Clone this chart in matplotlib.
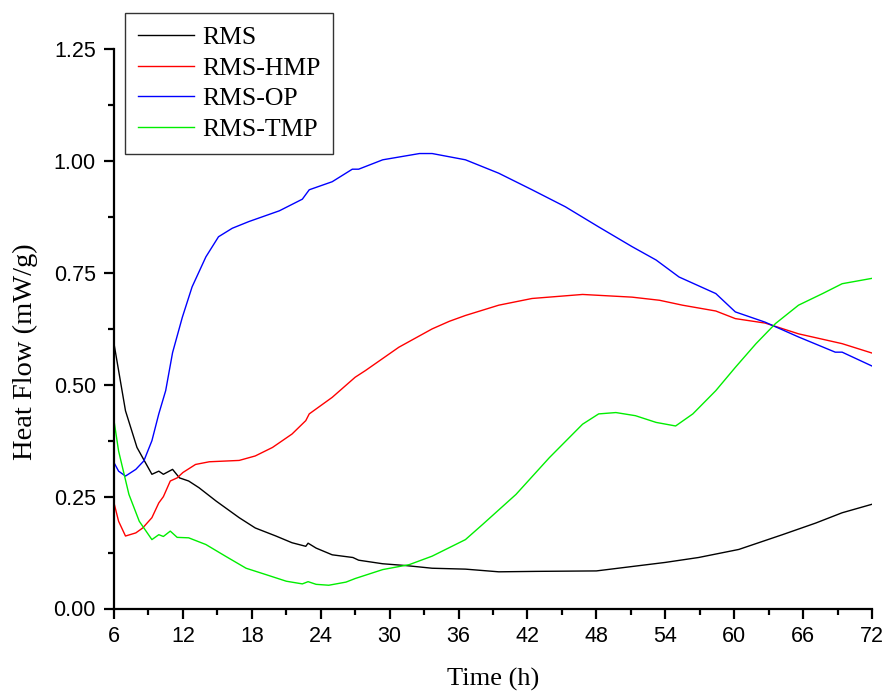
import matplotlib
matplotlib.use("Agg")
import matplotlib.pyplot as plt
from matplotlib.ticker import MultipleLocator

# ---- data ----
t_rms = [6.0, 7.0, 8.0, 9.3, 9.9, 10.3, 11.1, 11.7, 12.5, 13.4, 14.9, 16.9, 18.3, 20.1, 21.5, 22.7, 22.9,
         23.6, 25.0, 26.8, 27.3, 29.4, 31.4, 33.7, 36.6, 39.5, 42.8, 48.0, 54.0, 56.9, 60.4, 64.2, 67.1, 69.4, 72.0]
v_rms = [0.592, 0.442, 0.360, 0.300, 0.307, 0.300, 0.311, 0.292, 0.285, 0.270, 0.240, 0.203, 0.180, 0.162, 0.147,
         0.139, 0.146, 0.135, 0.120, 0.114, 0.108, 0.100, 0.096, 0.090, 0.088, 0.082, 0.083, 0.084, 0.103, 0.114,
         0.132, 0.165, 0.191, 0.214, 0.233]

t_hmp = [6.0, 6.4, 7.0, 7.9, 8.5, 9.3, 9.9, 10.3, 10.9, 11.5, 12.0, 13.1, 14.3, 16.9, 18.3, 19.8, 21.5, 22.7,
         23.0, 25.0, 27.0, 27.9, 30.8, 33.7, 35.2, 36.6, 39.5, 42.4, 46.8, 51.1, 53.5, 55.5, 58.4, 60.1, 62.7,
         65.6, 69.4, 72.0]
v_hmp = [0.236, 0.195, 0.162, 0.169, 0.180, 0.203, 0.236, 0.250, 0.285, 0.292, 0.304, 0.322, 0.328, 0.331, 0.341,
         0.360, 0.390, 0.420, 0.435, 0.472, 0.517, 0.532, 0.584, 0.625, 0.642, 0.655, 0.678, 0.693, 0.702, 0.696,
         0.689, 0.678, 0.665, 0.648, 0.638, 0.614, 0.592, 0.571]

t_op = [6.0, 6.4, 7.0, 7.9, 8.6, 9.3, 9.9, 10.5, 11.1, 11.95, 12.8, 14.0, 15.1, 16.3, 17.75, 20.4, 22.4, 23.0,
        25.0, 26.75, 27.3, 29.4, 32.6, 33.7, 36.6, 39.5, 42.4, 45.3, 48.2, 51.1, 53.2, 55.2, 58.4, 60.1, 62.7,
        65.6, 68.8, 69.4, 72.0]
v_op = [0.326, 0.307, 0.296, 0.311, 0.330, 0.375, 0.435, 0.487, 0.572, 0.651, 0.719, 0.786, 0.831, 0.850, 0.865,
        0.889, 0.915, 0.936, 0.954, 0.982, 0.982, 1.003, 1.017, 1.017, 1.003, 0.973, 0.936, 0.898, 0.853, 0.809,
        0.779, 0.741, 0.704, 0.663, 0.640, 0.607, 0.573, 0.573, 0.542]

t_tmp = [6.0, 6.4, 7.3, 8.2, 9.3, 9.9, 10.3, 10.9, 11.5, 12.5, 14.0, 15.7, 17.5, 19.2, 21.0, 22.4, 22.9, 23.6,
         24.7, 26.2, 27.0, 29.4, 31.7, 33.7, 36.6, 38.1, 41.0, 43.9, 46.8, 48.2, 49.7, 51.4, 53.2, 54.9, 56.4,
         58.4, 60.1, 61.9, 63.6, 65.6, 67.7, 69.4, 72.0]
v_tmp = [0.420, 0.352, 0.255, 0.195, 0.154, 0.165, 0.161, 0.173, 0.159, 0.158, 0.143, 0.117, 0.090, 0.076, 0.061,
         0.055, 0.060, 0.054, 0.052, 0.059, 0.067, 0.087, 0.098, 0.117, 0.154, 0.188, 0.255, 0.337, 0.412, 0.435,
         0.438, 0.431, 0.416, 0.408, 0.435, 0.487, 0.539, 0.592, 0.637, 0.678, 0.704, 0.726, 0.738]

series = [
    ("RMS", t_rms, v_rms, "#000000"),
    ("RMS-HMP", t_hmp, v_hmp, "#ff0000"),
    ("RMS-OP", t_op, v_op, "#0000ff"),
    ("RMS-TMP", t_tmp, v_tmp, "#00ee00"),
]

x_ticks = [6, 12, 18, 24, 30, 36, 42, 48, 54, 60, 66, 72]
y_ticks = [0.00, 0.25, 0.50, 0.75, 1.00, 1.25]

# ---- figure ----
W, H = 888, 696
fig = plt.figure(figsize=(W / 100, H / 100), dpi=100)
x0, x1, ytop, ybot = 114, 872, 49.3, 608.5
ax = fig.add_axes([x0 / W, 1 - ybot / H, (x1 - x0) / W, (ybot - ytop) / H])

for name, t, v, c in series:
    ax.plot(t, v, color=c, lw=1.0, label=name)

ax.set_xlim(6, 72)
ax.set_ylim(0, 1.25)
ax.set_xticks(x_ticks)
ax.set_yticks(y_ticks)
ax.set_yticklabels([f"{y:.2f}" for y in y_ticks])
ax.xaxis.set_minor_locator(MultipleLocator(3))
ax.yaxis.set_minor_locator(MultipleLocator(0.125))

for s in ["top", "right"]:
    ax.spines[s].set_visible(False)
for s in ["left", "bottom"]:
    ax.spines[s].set_linewidth(1.6)

ax.tick_params(which="major", direction="out", length=7.5, width=1.6, labelsize=15.5)
ax.tick_params(axis="y", which="major", pad=5.5)
ax.tick_params(axis="x", which="major", pad=5.0)
ax.tick_params(which="minor", direction="out", length=4.3, width=1.6)
for lab in ax.get_xticklabels() + ax.get_yticklabels():
    lab.set_family("Liberation Sans")

ax.set_xlabel("Time (h)", family="Liberation Serif", fontsize=19)
ax.set_ylabel("Heat Flow (mW/g)", family="Liberation Serif", fontsize=20.5)
ax.xaxis.set_label_coords(0.5, (ybot - 668) / (ybot - ytop))
ax.yaxis.set_label_coords((38 - x0) / (x1 - x0), (ybot - 352) / (ybot - ytop))

leg = ax.legend(loc="upper left", bbox_to_anchor=(125 / W, 1 - 13 / H), bbox_transform=fig.transFigure,
                borderaxespad=0, prop={"family": "Liberation Serif", "size": 18.5},
                frameon=True, fancybox=False, framealpha=1, edgecolor="#333333",
                handlelength=2.2, handletextpad=0.3, labelspacing=0.3, borderpad=0.5)
leg.get_frame().set_linewidth(1.0)

fig.savefig("out.png", dpi=100)
